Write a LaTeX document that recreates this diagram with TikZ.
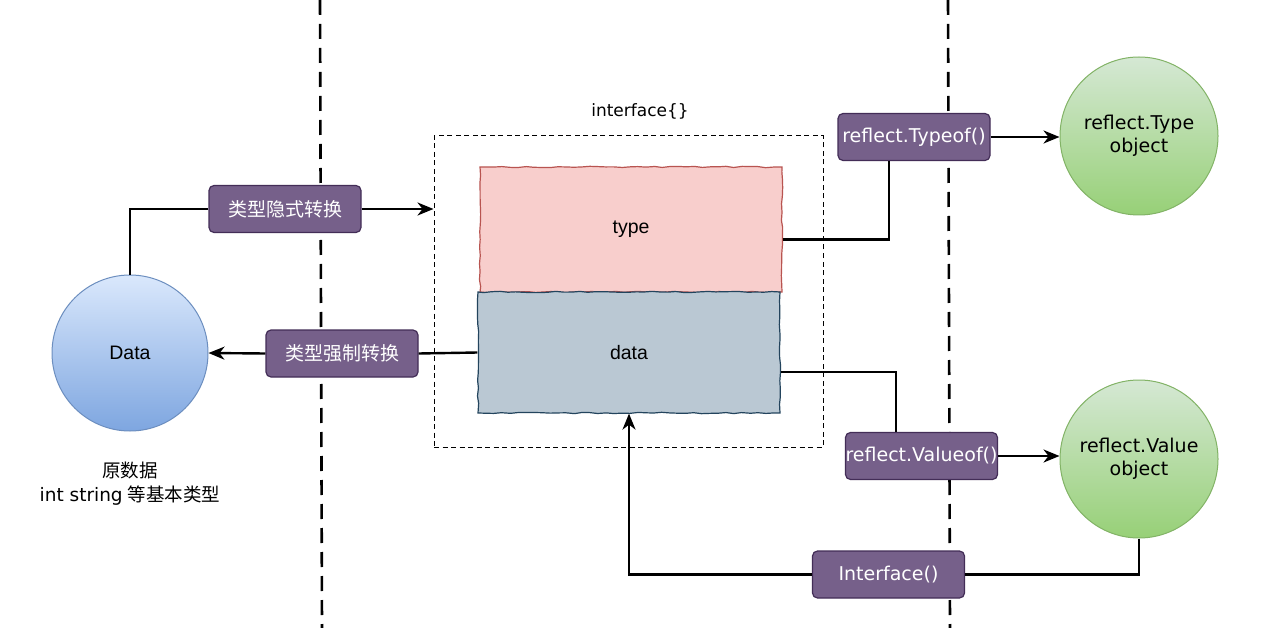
\documentclass[tikz,border=0pt]{standalone}
\usepackage{fontspec}
\setmainfont{Liberation Sans}
\newfontfamily\cjk{Noto Sans CJK SC}
\newfontfamily\comic{DejaVu Sans}
\usetikzlibrary{arrows.meta,decorations.pathmorphing}
\definecolor{lblfill}{HTML}{76608A}
\definecolor{lbldraw}{HTML}{432D57}
\definecolor{typefill}{HTML}{F8CECC}
\definecolor{typedraw}{HTML}{B85450}
\definecolor{datafill}{HTML}{BAC8D3}
\definecolor{datadraw}{HTML}{23445D}
\definecolor{bluetop}{HTML}{DAE8FC}
\definecolor{bluebot}{HTML}{7EA6E0}
\definecolor{bluedraw}{HTML}{6C8EBF}
\definecolor{greentop}{HTML}{D5E8D4}
\definecolor{greenbot}{HTML}{97D077}
\definecolor{greendraw}{HTML}{82B366}
\tikzset{
  lbl/.style={draw=lbldraw, line width=1.2pt, fill=lblfill, rounded corners=5pt,
    minimum width=152pt, minimum height=47pt, inner sep=0pt, text=white, font=\comic\fontsize{19}{21}\selectfont},
  cjklbl/.style={lbl, font=\cjk\fontsize{19}{21}\selectfont},
  rect/.style={line width=1.2pt, minimum width=302pt, inner sep=0pt, font=\fontsize{19.5}{21}\selectfont,
    decorate, decoration={random steps, segment length=8pt, amplitude=0.7pt}},
  bluecirc/.style={circle, draw=bluedraw, line width=1pt, top color=bluetop, bottom color=bluebot,
    minimum size=156pt, inner sep=0pt, font=\fontsize{19.5}{21}\selectfont},
  greencirc/.style={circle, draw=greendraw, line width=1pt, top color=greentop, bottom color=greenbot,
    minimum size=158pt, inner sep=0pt, align=center, font=\comic\fontsize{19}{23}\selectfont},
  conn/.style={line width=2.4pt, line join=miter},
  arr/.style={conn, -{Stealth[length=16pt, width=13pt, inset=5pt]}},
  sep/.style={line width=2.6pt, dash pattern=on 15pt off 9pt},
  ibox/.style={draw, line width=1pt, dash pattern=on 5pt off 3.5pt, minimum width=389pt, minimum height=311pt, inner sep=0pt}
}
\begin{document}
\begin{tikzpicture}[x=1pt,y=-1pt]
\useasboundingbox[fill=white] (0,0) rectangle (1268,628);
% separators
\coordinate (s1t) at (320,0); \coordinate (s1b) at (322,628);
\coordinate (s2t) at (948,0); \coordinate (s2b) at (950,628);
\draw[sep] (s1t) -- (s1b);
\draw[sep] (s2t) -- (s2b);
% interface box
\node[ibox] (iface) at (628.5,291.5) {};
\node[font=\comic\fontsize{17}{19}\selectfont] (ifacelbl) at (640,111) {interface\{\}};
% rects
\node[rect, draw=typedraw, fill=typefill, minimum height=125pt] (typerect) at (631,229.5) {type};
\node[rect, draw=datadraw, fill=datafill, minimum height=121pt] (datarect) at (629,352.5) {data};
% Data circle
\node[bluecirc] (Data) at (130,353) {Data};
\node[align=center, font=\fontsize{18.5}{24}\selectfont] (datanote) at (130,484)
  {{\cjk 原数据}\\{\comic int string} {\cjk 等基本类型}};
% green circles
\node[greencirc] (TypeObj) at (1139,136) {reflect.Type\\object};
\node[greencirc] (ValObj) at (1139,459) {reflect.Value\\object};
% labels
\node[cjklbl] (impl) at (285,209) {类型隐式转换};
\node[cjklbl] (cast) at (342,353.5) {类型强制转换};
\node[lbl] (typeof) at (914,137) {reflect.Typeof()};
\node[lbl] (valueof) at (921.5,456) {reflect.Valueof()};
\node[lbl] (ifn) at (888.5,574.5) {Interface()};
% connectors
\draw[conn] (Data.north) |- (impl.west);
\draw[arr] (impl.east) -- (iface.west |- impl.east);
\draw[conn] (datarect.west) -- (cast.east);
\draw[arr] (cast.west) -- (Data.east);
\draw[conn] ([yshift=-10pt]typerect.east) -| ([xshift=-25pt]typeof.south);
\draw[arr] (typeof.east) -- (TypeObj.west |- typeof.east);
\draw[conn] ([yshift=-19.5pt]datarect.east) -| ([xshift=-25.5pt]valueof.north);
\draw[arr] (valueof.east) -- (ValObj.west |- valueof.east);
\draw[conn] (ValObj.south) |- (ifn.east);
\draw[arr] (ifn.west) -| (datarect.south);
\end{tikzpicture}
\end{document}
